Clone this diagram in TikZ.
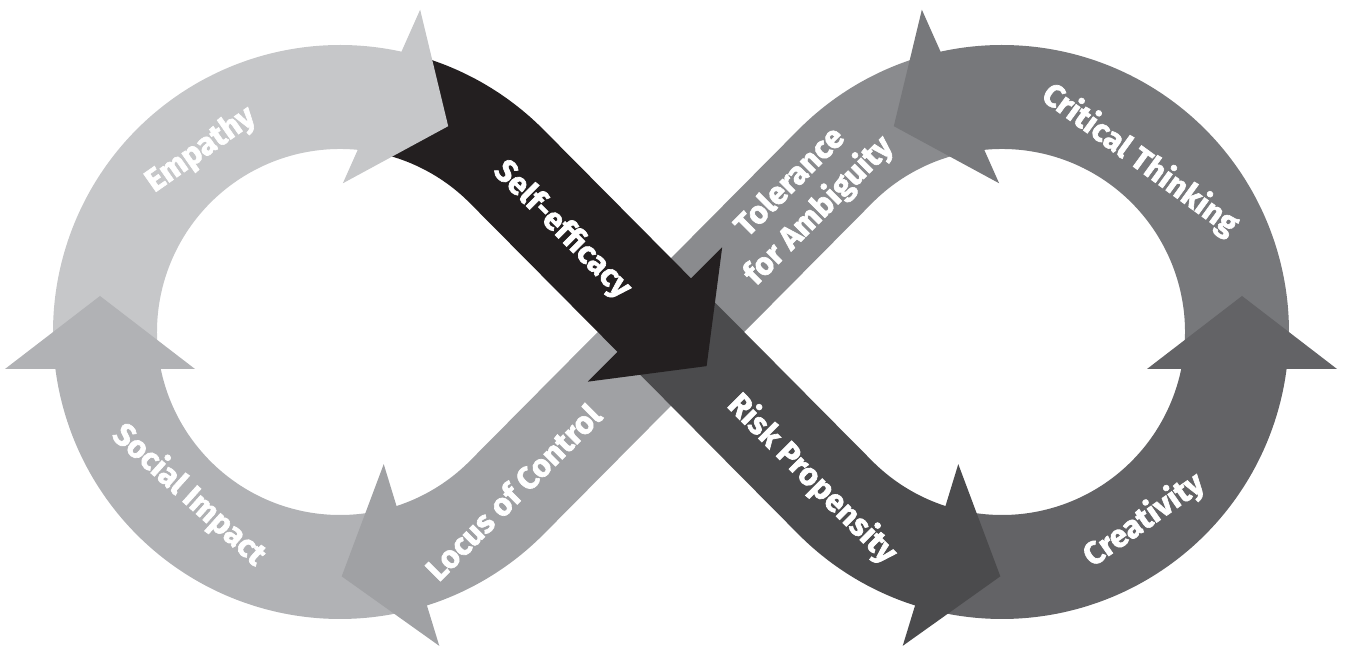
\documentclass[tikz,border=0pt]{standalone}
\usepackage{fontspec}
\usepackage{tikz}
\usetikzlibrary{calc}
\newfontfamily\lblfont{Fira Sans}[BoldFeatures={FakeBold=2}]
\definecolor{empGray}{HTML}{C6C7C9}
\definecolor{socGray}{HTML}{B1B2B5}
\definecolor{locGray}{HTML}{A0A1A4}
\definecolor{tolGray}{HTML}{8A8B8E}
\definecolor{critGray}{HTML}{77787B}
\definecolor{creaGray}{HTML}{636366}
\definecolor{riskGray}{HTML}{4B4B4D}
\definecolor{selfBlack}{HTML}{231F20}
\tikzset{
    band/.style={line width=2.08cm},
    lbl/.style={text=white, inner sep=0pt, align=center,
        font=\lblfont\bfseries\fontsize{18}{23}\selectfont},
}
% filled head: colour, middle of the base, direction
\newcommand{\arrowhead}[3]{%
    \fill[#1] ($#2+({#3+90}:95)$) -- ($#2+(#3:73)$) -- ($#2+({#3-90}:95)$) -- cycle;}

\begin{document}
\begin{tikzpicture}[x=0.02cm,y=0.02cm]
    \useasboundingbox (0,0) rectangle (1346,648);
    \coordinate (lc) at (340,316);
    \coordinate (rc) at (1002,316);
    \coordinate (mid) at (671,316);
    % bands, back to front
    \draw[band, tolGray] ($(rc)+(105:235)$) arc[start angle=105, end angle=135, radius=235] -- (mid);
    \draw[band, locGray] (mid) -- ($(lc)+(-45:235)$) arc[start angle=-45, end angle=-77, radius=235];
    \draw[band, socGray] ($(lc)+(283:235)$) arc[start angle=283, end angle=183, radius=235];
    \draw[band, empGray] ($(lc)+(185:235)$) arc[start angle=185, end angle=75, radius=235];
    \draw[band, critGray] ($(rc)+(-5:235)$) arc[start angle=-5, end angle=105, radius=235];
    \draw[band, creaGray] ($(rc)+(257:235)$) arc[start angle=257, end angle=357, radius=235];
    \draw[band, riskGray] (mid) -- ($(rc)+(225:235)$) arc[start angle=225, end angle=257, radius=235];
    \draw[band, selfBlack] ($(lc)+(75:235)$) arc[start angle=75, end angle=45, radius=235] -- (mid);
    % heads
    \arrowhead{socGray}{(100,279)}{90}
    \arrowhead{empGray}{(381.5,551.5)}{-24}
    \arrowhead{selfBlack}{(655,333.5)}{-45}
    \arrowhead{locGray}{(411.5,93)}{197}
    \arrowhead{riskGray}{(930.5,93)}{-17}
    \arrowhead{creaGray}{(1242,279)}{90}
    \arrowhead{critGray}{(960.5,551.5)}{204}
    % labels
    \node[lbl, rotate=35] (empathy) at (201,498) {Empathy};
    \node[lbl, rotate=-42] (social) at (189,153) {Social Impact};
    \node[lbl, rotate=45] (locus) at (513,156) {Locus of Control};
    \node[lbl, rotate=-45] (selfeff) at (562,418) {Self-efficacy};
    \node[lbl, rotate=45] (tolerance) at (805,451) {Tolerance\\for Ambiguity};
    \node[lbl, rotate=-45] (risk) at (812,169) {Risk Propensity};
    \node[lbl, rotate=-36] (critical) at (1140,488) {Critical Thinking};
    \node[lbl, rotate=35] (creativity) at (1144,128) {Creativity};
\end{tikzpicture}
\end{document}
